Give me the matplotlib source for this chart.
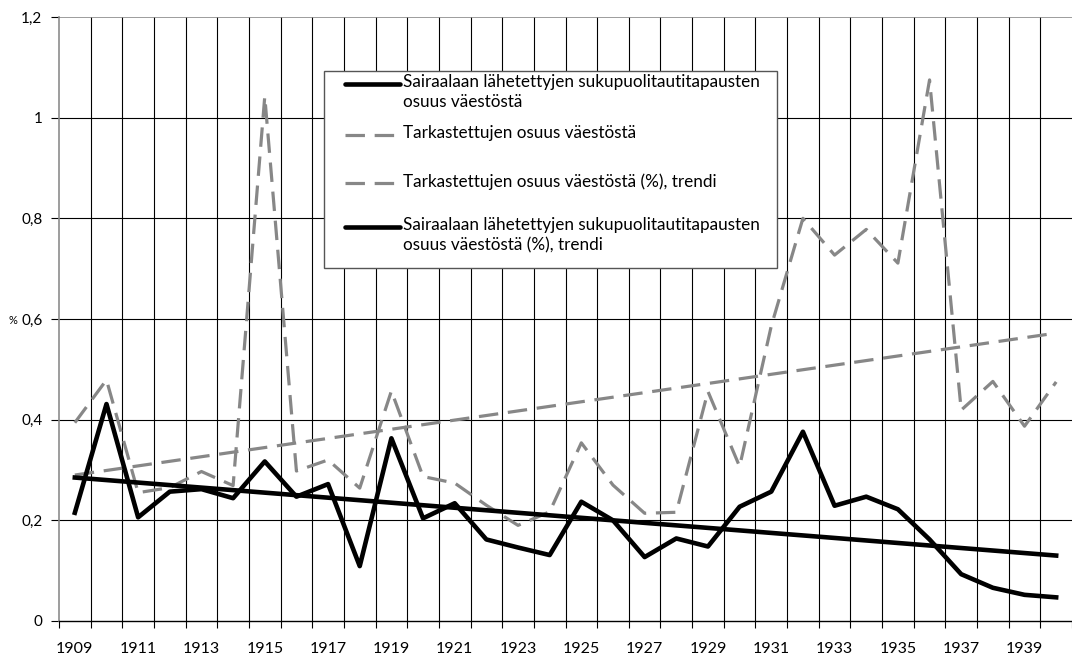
import matplotlib
matplotlib.use("Agg")
import matplotlib.pyplot as plt
from matplotlib.lines import Line2D
from matplotlib.patches import Rectangle
import numpy as np

plt.rcParams['font.family'] = ['Lato', 'DejaVu Sans']
plt.rcParams['lines.scale_dashes'] = False

years = list(range(1909, 1941))
sairaalaan = [0.215, 0.431, 0.206, 0.257, 0.262, 0.244, 0.317, 0.247, 0.272, 0.109,
              0.363, 0.204, 0.234, 0.162, 0.146, 0.131, 0.237, 0.200, 0.127, 0.164,
              0.148, 0.227, 0.257, 0.376, 0.229, 0.247, 0.222, 0.162, 0.093, 0.066,
              0.052, 0.047]
tarkastettujen = [0.394, 0.479, 0.255, 0.265, 0.297, 0.269, 1.042, 0.298, 0.320, 0.264,
                  0.457, 0.287, 0.274, 0.230, 0.190, 0.217, 0.354, 0.270, 0.214, 0.216,
                  0.456, 0.307, 0.586, 0.800, 0.727, 0.778, 0.711, 1.075, 0.419, 0.476,
                  0.387, 0.475]
trend_years = [1909, 1940]
tarkastettujen_trend = [0.290, 0.572]
sairaalaan_trend = [0.285, 0.130]

labels = ["Sairaalaan lähetettyjen sukupuolitautitapausten\nosuus väestöstä",
          "Tarkastettujen osuus väestöstä",
          "Tarkastettujen osuus väestöstä (%), trendi",
          "Sairaalaan lähetettyjen sukupuolitautitapausten\nosuus väestöstä (%), trendi"]

W, H = 1072, 658
fig = plt.figure(figsize=(W / 100, H / 100), dpi=100)
ax = fig.add_axes([59 / W, 1 - 621 / H, 1 - 59 / W, (621 - 17) / H])

gray = '#878787'
blw = 3.3
glw = 2.3
dash = (14, 7)
ax.plot(years, sairaalaan, color='black', lw=blw, zorder=5)
ax.plot(years, tarkastettujen, color=gray, lw=glw, dashes=dash, zorder=4)
ax.plot(trend_years, tarkastettujen_trend, color=gray, lw=glw, dashes=dash, zorder=4)
ax.plot(trend_years, sairaalaan_trend, color='black', lw=blw, zorder=5)

ax.set_xlim(1908.5, 1940.5)
ax.set_ylim(0, 1.2)

# vertical gridlines at category boundaries
bounds = np.arange(1908.5, 1941.5, 1.0)
ax.set_xticks(bounds)
ax.set_xticklabels([])
ax.tick_params(axis='x', direction='out', length=5, width=0.8, color='black')
for b in bounds[1:-1]:
    ax.axvline(b, color='black', lw=0.8, zorder=1)
ax.set_xticks(years[::2], minor=True)
ax.set_xticklabels([str(y) for y in years[::2]], minor=True, fontsize=11.5)
ax.tick_params(axis='x', which='minor', length=0, pad=15)

yt = [0, 0.2, 0.4, 0.6, 0.8, 1.0, 1.2]
ylabels = ["0", "0,2", "0,4", "0,6", "0,8", "1", "1,2"]
ax.set_yticks(yt)
ax.set_yticklabels(ylabels, fontsize=11)
ax.tick_params(axis='y', direction='out', length=6, width=0.8, pad=6)
for v in yt[1:-1]:
    ax.axhline(v, color='black', lw=0.8, zorder=1)
ax.axhline(1.2, color='#8c8c8c', lw=1.2, zorder=1)
fig.text(13 / W, 1 - 320 / H, "%", fontsize=8, ha='center', va='center')

for s in ['top', 'right']:
    ax.spines[s].set_visible(False)
ax.spines['left'].set_color('#8c8c8c')
ax.spines['left'].set_linewidth(1.2)
ax.spines['bottom'].set_color('black')
ax.spines['bottom'].set_linewidth(1.0)

# legend box drawn manually in pixel coordinates
def fx(x):
    return x / W

def fy(y):
    return 1 - y / H

fig.add_artist(Rectangle((fx(324), fy(268)), fx(777 - 324), (268 - 71) / H,
                         transform=fig.transFigure, facecolor='white',
                         edgecolor='#555555', lw=1.0, zorder=10))
entries = [(84, 'black', blw, None), (135, gray, glw, dash),
           (183, gray, glw, dash), (227, 'black', blw, None)]
for (yy, c, lw, d), lab in zip(entries, labels):
    ln = Line2D([fx(345), fx(400)], [fy(yy), fy(yy)], transform=fig.transFigure,
                color=c, lw=lw, zorder=11, solid_capstyle='round')
    if d:
        ln.set_dashes(d)
    fig.add_artist(ln)
    fig.text(fx(403), fy(yy - 10), lab, fontsize=12.3, ha='left', va='top',
             zorder=12, linespacing=1.3, transform=fig.transFigure)

fig.savefig('out.png', dpi=100)
